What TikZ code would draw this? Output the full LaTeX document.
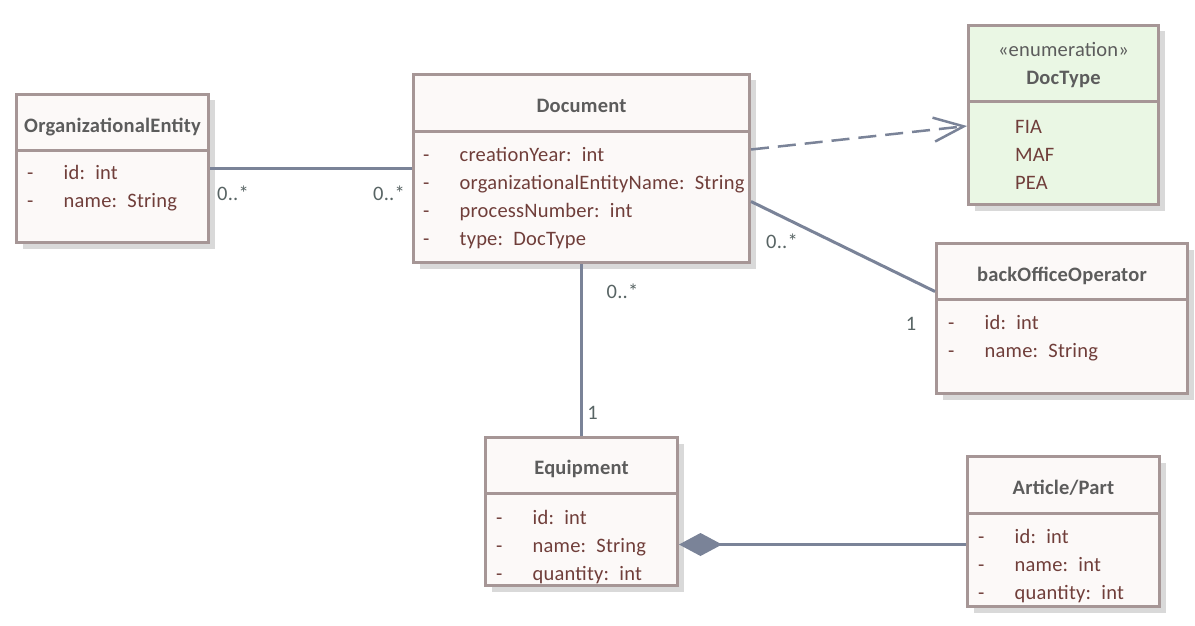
\documentclass[tikz,border=0pt]{standalone}
\usepackage{fontspec}
\setmainfont{Carlito}[LetterSpace=1]
\usetikzlibrary{arrows.meta, positioning, shadows}

\definecolor{clsborder}{RGB}{166,150,150}
\definecolor{clsfill}{RGB}{252,249,248}
\definecolor{enumfill}{RGB}{234,247,228}
\definecolor{ttlgray}{RGB}{92,92,92}
\definecolor{attrbrown}{RGB}{112,62,58}
\definecolor{linkgray}{RGB}{122,131,152}
\definecolor{multgray}{RGB}{88,100,100}

\newcommand{\dsh}{\makebox[36.5pt][l]{-}}

\begin{document}
\begin{tikzpicture}[
  x=1pt, y=-1pt,
  cls/.style={rectangle, draw=clsborder, line width=3pt, fill=clsfill, anchor=north west, inner sep=0pt,
              drop shadow={shadow xshift=6pt, shadow yshift=-6pt, fill=black!15, opacity=1}},
  sep/.style={draw=clsborder, line width=3pt},
  ttl/.style={font=\fontsize{20.5}{24}\selectfont\bfseries, text=ttlgray, anchor=mid, inner sep=0pt},
  attr/.style={font=\fontsize{20.5}{24}\selectfont, text=attrbrown, text width=400pt, align=left,
               inner sep=0pt, text height=17pt, text depth=10.7pt},
  link/.style={draw=linkgray, line width=3pt},
  mult/.style={font=\fontsize{20.5}{24}\selectfont, text=multgray, inner sep=0pt}
]
  \fill[white] (0,0) rectangle (1195,626);
  \useasboundingbox (0,0) rectangle (1195,626);

  % class boxes
  \node[cls, minimum width=192pt, minimum height=148pt] (oe) at (15,93) {};
  \node[cls, minimum width=336pt, minimum height=188pt] (doc) at (412,73) {};
  \node[cls, fill=enumfill, minimum width=190pt, minimum height=179pt] (dt) at (967,24) {};
  \node[cls, minimum width=251pt, minimum height=150pt] (bo) at (935,242) {};
  \node[cls, minimum width=192pt, minimum height=148pt] (eq) at (484,436) {};
  \node[cls, minimum width=192pt, minimum height=150pt] (art) at (966,455) {};

  \draw[sep] ([yshift=-57pt]oe.north west) -- ([yshift=-57pt]oe.north east);
  \draw[sep] ([yshift=-58pt]doc.north west) -- ([yshift=-58pt]doc.north east);
  \draw[sep] ([yshift=-78pt]dt.north west) -- ([yshift=-78pt]dt.north east);
  \draw[sep] ([yshift=-57pt]bo.north west) -- ([yshift=-57pt]bo.north east);
  \draw[sep] ([yshift=-57pt]eq.north west) -- ([yshift=-57pt]eq.north east);
  \draw[sep] ([yshift=-58pt]art.north west) -- ([yshift=-58pt]art.north east);

  % names
  \node[ttl] (oe-t) at ([yshift=-37pt]oe.north) {OrganizationalEntity};
  \node[ttl] (doc-t) at ([yshift=-37pt]doc.north) {Document};
  \node[ttl, font=\fontsize{20.5}{24}\selectfont] (dt-s) at ([yshift=-30pt]dt.north) {«enumeration»};
  \node[ttl] (dt-t) at ([yshift=-58pt]dt.north) {DocType};
  \node[ttl] (bo-t) at ([yshift=-37pt]bo.north) {backOfficeOperator};
  \node[ttl] (eq-t) at ([yshift=-36pt]eq.north) {Equipment};
  \node[ttl] (art-t) at ([yshift=-37pt]art.north) {Article/Part};

  % attributes
  \node[attr, anchor=north west] (oe-a1) at ([xshift=12pt, yshift=-69pt]oe.north west) {\dsh id: int};
  \node[attr, below=0pt of oe-a1] (oe-a2) {\dsh name: String};

  \node[attr, anchor=north west] (doc-a1) at ([xshift=11pt, yshift=-71pt]doc.north west) {\dsh creationYear: int};
  \node[attr, below=0pt of doc-a1] (doc-a2) {\dsh organizationalEntityName: String};
  \node[attr, below=0pt of doc-a2] (doc-a3) {\dsh processNumber: int};
  \node[attr, below=0pt of doc-a3] (doc-a4) {\dsh type: DocType};

  \node[attr, anchor=north west] (dt-a1) at ([xshift=48pt, yshift=-92pt]dt.north west) {FIA};
  \node[attr, below=0pt of dt-a1] (dt-a2) {MAF};
  \node[attr, below=0pt of dt-a2] (dt-a3) {PEA};

  \node[attr, anchor=north west] (bo-a1) at ([xshift=13pt, yshift=-70pt]bo.north west) {\dsh id: int};
  \node[attr, below=0pt of bo-a1] (bo-a2) {\dsh name: String};

  \node[attr, anchor=north west] (eq-a1) at ([xshift=12pt, yshift=-71pt]eq.north west) {\dsh id: int};
  \node[attr, below=0pt of eq-a1] (eq-a2) {\dsh name: String};
  \node[attr, below=0pt of eq-a2] (eq-a3) {\dsh quantity: int};

  \node[attr, anchor=north west] (art-a1) at ([xshift=12pt, yshift=-71pt]art.north west) {\dsh id: int};
  \node[attr, below=0pt of art-a1] (art-a2) {\dsh name: int};
  \node[attr, below=0pt of art-a2] (art-a3) {\dsh quantity: int};

  % associations
  \draw[link] (oe.east) --
    node[mult, pos=0, xshift=23pt, yshift=-25pt] (m-oe) {0..*}
    node[mult, pos=1, xshift=-23pt, yshift=-25pt] (m-doc1) {0..*} (doc.west);
  \draw[link] (doc.south) --
    node[mult, pos=0, xshift=41pt, yshift=-27pt] (m-doc2) {0..*}
    node[mult, pos=1, xshift=11pt, yshift=23pt] (m-eq) {1} (eq.north);
  \draw[link] ([yshift=-33pt]doc.east) --
    node[mult, pos=0, xshift=31pt, yshift=-40pt] (m-doc3) {0..*}
    node[mult, pos=1, xshift=-24pt, yshift=-32pt] (m-bo) {1} ([yshift=27pt]bo.west);
  \draw[link, line width=2.5pt, dash pattern=on 18pt off 9pt,
        -{Straight Barb[length=30pt, width=24pt]}] ([yshift=19pt]doc.east) -- ([yshift=-11pt]dt.west);
  \draw[link, {Diamond[length=43pt, width=23pt, fill=linkgray]}-]
    ([yshift=-33pt]eq.east) -- ([yshift=-33pt]eq.east -| art.west);
\end{tikzpicture}
\end{document}
